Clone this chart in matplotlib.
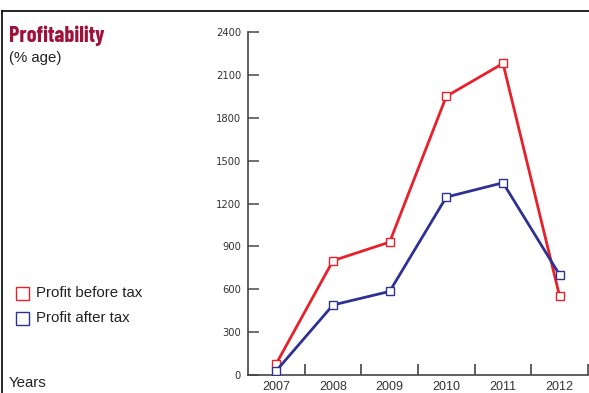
import matplotlib
matplotlib.use("Agg")
import matplotlib.pyplot as plt
from matplotlib.lines import Line2D
from matplotlib.patches import Rectangle

years = ["2007", "2008", "2009", "2010", "2011", "2012"]
profit_before_tax = [80, 800, 930, 1950, 2180, 550]
profit_after_tax = [30, 490, 585, 1245, 1345, 700]
y_ticks = [0, 300, 600, 900, 1200, 1500, 1800, 2100, 2400]

RED = "#E8202A"
BLUE = "#2E3192"
TITLE = "#A0103A"
AX = "#333333"
SANS = ["Liberation Sans", "DejaVu Sans"]

fig = plt.figure(figsize=(5.89, 3.93), dpi=100)
ax = fig.add_axes([248/589, 1-375/393, (588-248)/589, (375-32)/393])

x = list(range(len(years)))
ax.plot(x, profit_before_tax, color=RED, lw=2.0, marker="s", ms=5.5,
        mfc="white", mec=RED, mew=1.0, zorder=3)
ax.plot(x, profit_after_tax, color=BLUE, lw=2.0, marker="s", ms=5.5,
        mfc="white", mec=BLUE, mew=1.0, zorder=3)

ax.set_xlim(-0.5, len(years)-0.5)
ax.set_ylim(0, 2400)
ax.set_yticks(y_ticks)
ax.set_yticklabels([str(v) for v in y_ticks], fontsize=7.2, color=AX, family="DejaVu Sans")
ax.tick_params(axis="y", direction="in", length=8, width=1.2, color="#555555", pad=5)
ax.set_xticks(x)
ax.set_xticklabels(years, fontsize=9, color=AX, family=SANS)
ax.tick_params(axis="x", which="major", length=0, pad=4)
ax.set_xticks([i + 0.5 for i in x], minor=True)
ax.tick_params(axis="x", which="minor", direction="in", length=8, width=1.2, color="#444444")
for s in ["top", "right"]:
    ax.spines[s].set_visible(False)
for s in ["left", "bottom"]:
    ax.spines[s].set_color("#444444")
    ax.spines[s].set_linewidth(1.2)
ax.patch.set_alpha(0)

# frame
fig.add_artist(Line2D([2/589, 1], [1-11/393, 1-11/393], color="black", lw=1.2))
fig.add_artist(Line2D([2/589, 2/589], [0, 1-11/393], color="black", lw=1.2))

fig.text(9/589, 1-36/393, "Profitability", fontsize=16, fontweight="bold",
         color=TITLE, family=["Barlow Condensed", "Roboto Condensed", "DejaVu Sans"],
         va="center", ha="left")
fig.text(9/589, 1-58/393, "(% age)", fontsize=10.8, color="#222222", va="center", ha="left",
         family=SANS)

# legend
for yy, col, lab in [(293, RED, "Profit before tax"), (318, BLUE, "Profit after tax")]:
    fig.add_artist(Rectangle((15.5/589, 1-(yy+6.5)/393), 13/589, 13/393,
                             fill=False, edgecolor=col, lw=1.0))
    fig.text(36/589, 1-yy/393, lab, fontsize=10.8, color="#222222", va="center", ha="left",
             family=SANS)

fig.text(9/589, 1-383/393, "Years", fontsize=10.8, color="#222222", va="center", ha="left",
         family=SANS)

fig.savefig("out.png", dpi=100)
